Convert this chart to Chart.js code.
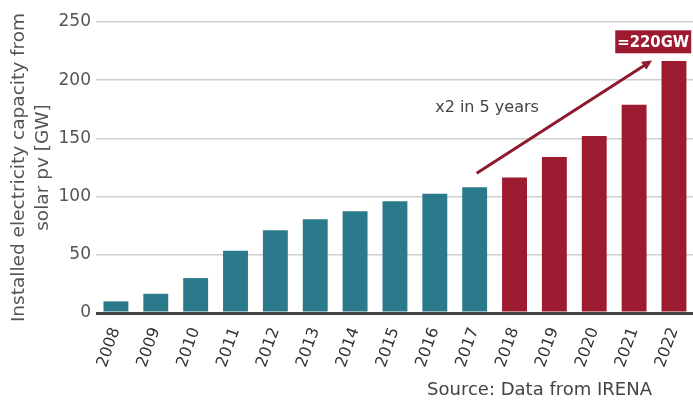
<!DOCTYPE html>
<html>
<head>
<meta charset="utf-8">
<script src="https://cdn.jsdelivr.net/npm/chart.js@4.4.0/dist/chart.umd.min.js"></script>
<style>
html,body{margin:0;padding:0;background:#fff;overflow:hidden;}
#wrap{position:relative;width:696px;height:401px;}
</style>
</head>
<body>
<div id="wrap"><canvas id="c" width="696" height="401"></canvas></div>
<script>
const years = ['2008','2009','2010','2011','2012','2013','2014','2015','2016','2017','2018','2019','2020','2021','2022'];
const capacityGW = [10, 16.5, 30, 53.5, 71, 80.5, 87.5, 96, 102.5, 108, 116.5, 134, 152, 179, 216.5];
const yTicks = [0, 50, 100, 150, 200, 250];
const highlightFrom = '2018';
const arrowFrom = {index: 9.05, value: 120};
const arrowTo = {index: 13.45, value: 217};
const labelText = '=220GW';
const labelAt = {index: 13.48, value: 233};
const growthText = 'x2 in 5 years';
const growthAt = {index: 9.31, value: 176};
const sourceText = 'Source: Data from IRENA';

const TEAL = '#2a7a8b';
const RED = '#9c1b31';
const FONT = "'DejaVu Sans', sans-serif";

const overlay = {
  id: 'overlay',
  afterDatasetsDraw(chart) {
    const ctx = chart.ctx, x = chart.scales.x, y = chart.scales.y;
    const x1 = x.getPixelForValue(arrowFrom.index), y1 = y.getPixelForValue(arrowFrom.value);
    const x2 = x.getPixelForValue(arrowTo.index), y2 = y.getPixelForValue(arrowTo.value);
    ctx.save();
    ctx.strokeStyle = '#8e1a2e';
    ctx.fillStyle = '#8e1a2e';
    ctx.lineWidth = 3;
    const ang = Math.atan2(y2 - y1, x2 - x1);
    const hl = 11;
    ctx.beginPath();
    ctx.moveTo(x1, y1);
    ctx.lineTo(x2 - Math.cos(ang) * hl * 0.8, y2 - Math.sin(ang) * hl * 0.8);
    ctx.stroke();
    ctx.beginPath();
    ctx.moveTo(x2, y2);
    ctx.lineTo(x2 - hl * Math.cos(ang - 0.45), y2 - hl * Math.sin(ang - 0.45));
    ctx.lineTo(x2 - hl * Math.cos(ang + 0.45), y2 - hl * Math.sin(ang + 0.45));
    ctx.closePath();
    ctx.fill();
    ctx.font = "16px " + FONT;
    ctx.fillStyle = '#444';
    ctx.textAlign = 'center';
    ctx.textBaseline = 'middle';
    ctx.fillText(growthText, x.getPixelForValue(growthAt.index), y.getPixelForValue(growthAt.value));
    ctx.font = "bold 16px " + FONT;
    const lx = x.getPixelForValue(labelAt.index), ly = y.getPixelForValue(labelAt.value);
    const w = 76;
    ctx.fillStyle = RED;
    ctx.fillRect(lx - w / 2, ly - 11.5, w, 23);
    ctx.fillStyle = '#fff';
    ctx.fillText(labelText, lx, ly + 1, w - 4);
    ctx.font = "18px " + FONT;
    ctx.fillStyle = '#444';
    ctx.textAlign = 'right';
    ctx.fillText(sourceText, 652, 390);
    ctx.restore();
  }
};

new Chart(document.getElementById('c'), {
  type: 'bar',
  data: {
    labels: years,
    datasets: [{
      data: capacityGW,
      backgroundColor: years.map(yr => yr >= highlightFrom ? RED : TEAL),
      barPercentage: 0.625,
      categoryPercentage: 1.0,
      borderWidth: 0
    }]
  },
  options: {
    responsive: false,
    animation: false,
    devicePixelRatio: 1,
    layout: {padding: {top: 22, right: 0, bottom: 0, left: 0}},
    plugins: {legend: {display: false}, tooltip: {enabled: false}},
    scales: {
      x: {
        grid: {display: false},
        border: {display: false},
        ticks: {
          color: '#333',
          font: {family: FONT, size: 16},
          maxRotation: 70, minRotation: 70,
          padding: 4
        },
        afterFit(s) { s.height = 88; }
      },
      y: {
        min: 0, max: 250,
        afterBuildTicks(s) { s.ticks = yTicks.map(v => ({value: v})); },
        grid: {
          color: ctx => ctx.tick && ctx.tick.value === 0 ? '#444' : '#cfcfcf',
          lineWidth: ctx => ctx.tick && ctx.tick.value === 0 ? 3 : 1.5,
          drawTicks: false
        },
        border: {display: false},
        ticks: {
          color: '#555',
          font: {family: FONT, size: 17},
          padding: 5
        },
        title: {
          display: true,
          text: ['Installed electricity capacity from', 'solar pv [GW]'],
          color: '#555',
          font: {family: FONT, size: 18.5, lineHeight: 1.25},
          padding: {top: 8, bottom: 0}
        },
        afterFit(s) { s.width = 96; }
      }
    }
  },
  plugins: [overlay]
});
</script>
</body>
</html>
